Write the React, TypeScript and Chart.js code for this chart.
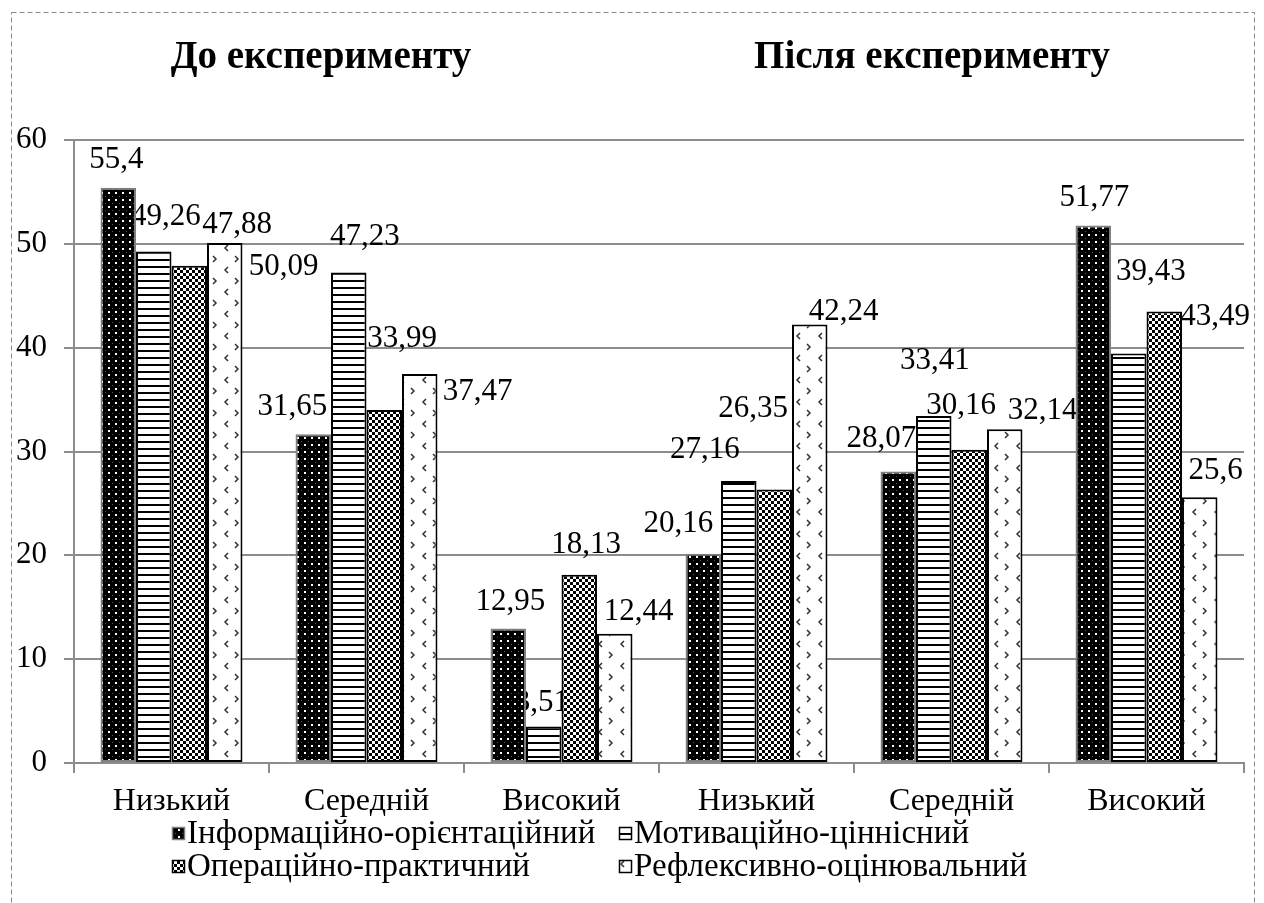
import React, { useEffect, useRef } from "react";
import { Chart, registerables } from "chart.js";

Chart.register(...registerables);

// ---------- data ----------
const CATEGORIES = ["Низький", "Середній", "Високий", "Низький", "Середній", "Високий"];
const SERIES_NAMES = [
  "Інформаційно-орієнтаційний",
  "Мотиваційно-ціннісний",
  "Операційно-практичний",
  "Рефлексивно-оцінювальний",
];
const INFO_VALUES = [55.4, 31.65, 12.95, 20.16, 28.07, 51.77];
const MOTIV_VALUES = [49.26, 47.23, 3.51, 27.16, 33.41, 39.43];
const OPER_VALUES = [47.88, 33.99, 18.13, 26.35, 30.16, 43.49];
const REFL_VALUES = [50.09, 37.47, 12.44, 42.24, 32.14, 25.6];
const Y_MIN = 0;
const Y_MAX = 60;
const Y_STEP = 10;
const GROUP_TITLES = ["До експерименту", "Після експерименту"];

// ---------- label placement (offsets of each value label from its bar top-centre) ----------
const LABEL_OFFSETS: number[][][] = [
  [[-2, -28], [-21, -28], [2, -27], [-25, -30], [-17, -33], [1, -28]],
  [[12, -35], [16, -36], [-2, -24], [-34, -31], [1, -55], [22, -82]],
  [[48, -41], [18, -71], [7, -30], [-21, -81], [-8, -44], [51, 5]],
  [[59, 24], [58, 18], [24, -22], [34, -13], [38, -18], [16, -26]],
];

const FONT_FAMILY = '"Liberation Serif", "Times New Roman", serif';
const GRID_COLOR = "#8c8c8c";
const BORDER_COLORS = ["#7f7f7f", "#000000", "#000000", "#000000"];
const TEXT_SIZE = 31;
const LEGEND_SIZE = 33;

function fmt(v: number): string {
  return String(v).replace(".", ",");
}

function tile(w: number, h: number, draw: (c: CanvasRenderingContext2D) => void) {
  const c = document.createElement("canvas");
  c.width = w;
  c.height = h;
  const ctx = c.getContext("2d")!;
  draw(ctx);
  return c;
}

function makePatterns(ctx: CanvasRenderingContext2D): CanvasPattern[] {
  const dots = tile(7, 7, (c) => {
    c.fillStyle = "#000";
    c.fillRect(0, 0, 7, 7);
    c.fillStyle = "#ffffff";
    c.fillRect(3, 3, 2, 2);
    c.fillStyle = "#555";
    c.fillRect(0, 0, 1, 1);
  });
  const lines = tile(4, 7, (c) => {
    c.fillStyle = "#fff";
    c.fillRect(0, 0, 4, 7);
    c.fillStyle = "#000";
    c.fillRect(0, 0, 4, 2);
  });
  const checker = tile(6, 6, (c) => {
    c.fillStyle = "#fff";
    c.fillRect(0, 0, 6, 6);
    c.fillStyle = "#000";
    c.fillRect(0, 0, 3, 3);
    c.fillRect(3, 3, 3, 3);
  });
  const chevrons = tile(22, 22, (c) => {
    c.fillStyle = "#fff";
    c.fillRect(0, 0, 22, 22);
    c.strokeStyle = "#333";
    c.lineWidth = 1.5;
    c.beginPath();
    c.moveTo(8, 3);
    c.lineTo(5, 6);
    c.lineTo(8, 9);
    c.moveTo(15, 14);
    c.lineTo(18, 17);
    c.lineTo(15, 20);
    c.stroke();
  });
  return [dots, lines, checker, chevrons].map((t) => ctx.createPattern(t, "repeat")!);
}

export default function App() {
  const ref = useRef<HTMLCanvasElement | null>(null);

  useEffect(() => {
    const canvas = ref.current!;
    const ctx0 = canvas.getContext("2d")!;
    const patterns = makePatterns(ctx0);
    const seriesValues = [INFO_VALUES, MOTIV_VALUES, OPER_VALUES, REFL_VALUES];

    const framePlugin = {
      id: "frame",
      beforeDraw(chart: any) {
        const c = chart.ctx;
        c.save();
        c.fillStyle = "#fff";
        c.fillRect(0, 0, chart.width, chart.height);
        c.strokeStyle = "#8a8a8a";
        c.lineWidth = 1;
        c.setLineDash([5, 3]);
        c.strokeRect(11.5, 12.5, 1243, 910);
        c.restore();
      },
    };

    const valueLabelPlugin = {
      id: "valueLabels",
      beforeDatasetsDraw(chart: any) {
        const c = chart.ctx;
        c.save();
        c.font = `${TEXT_SIZE}px ${FONT_FAMILY}`;
        c.fillStyle = "#000";
        c.textAlign = "center";
        c.textBaseline = "middle";
        chart.data.datasets.forEach((ds: any, i: number) => {
          const meta = chart.getDatasetMeta(i);
          meta.data.forEach((bar: any, j: number) => {
            const [dx, dy] = LABEL_OFFSETS[i][j];
            c.fillText(fmt(ds.data[j]), bar.x + dx, bar.y + dy);
          });
        });
        c.restore();
      },
    };

    const titlePlugin = {
      id: "groupTitles",
      afterDraw(chart: any) {
        const c = chart.ctx;
        c.save();
        c.font = `bold 39px ${FONT_FAMILY}`;
        c.fillStyle = "#000";
        c.textAlign = "center";
        c.textBaseline = "alphabetic";
        const xs = [321, 932];
        GROUP_TITLES.forEach((t, i) => c.fillText(t, xs[i], 68));
        c.restore();
      },
    };

    const legendPlugin = {
      id: "customLegend",
      afterDraw(chart: any) {
        const c = chart.ctx;
        c.save();
        c.font = `${LEGEND_SIZE}px ${FONT_FAMILY}`;
        c.fillStyle = "#000";
        c.textAlign = "left";
        c.textBaseline = "middle";
        const colX = [172, 619];
        const rowY = [834, 867];
        SERIES_NAMES.forEach((name, i) => {
          const x = colX[i % 2];
          const y = rowY[Math.floor(i / 2)];
          c.fillStyle = patterns[i];
          c.fillRect(x, y - 7, 13, 13);
          c.strokeStyle = BORDER_COLORS[i];
          c.lineWidth = 1.5;
          c.strokeRect(x + 0.5, y - 6.5, 12, 12);
          c.fillStyle = "#000";
          c.fillText(name, x + 15, y);
        });
        c.restore();
      },
    };

    const chart = new Chart(canvas, {
      type: "bar",
      data: {
        labels: CATEGORIES,
        datasets: seriesValues.map((vals, i) => ({
          label: SERIES_NAMES[i],
          data: vals,
          backgroundColor: patterns[i],
          borderColor: BORDER_COLORS[i],
          borderWidth: 2,
          borderSkipped: false,
          categoryPercentage: 0.728,
          barPercentage: 1,
        })),
      },
      options: {
        responsive: false,
        animation: false,
        events: [],
        layout: { padding: { left: 0, top: 140, right: 20, bottom: 0 } },
        plugins: {
          legend: { display: false },
          tooltip: { enabled: false },
          title: { display: false },
        },
        scales: {
          x: {
            afterFit(scale: any) {
              scale.height = 140;
            },
            grid: {
              display: true,
              offset: true,
              drawOnChartArea: false,
              drawTicks: true,
              tickLength: 10,
              color: GRID_COLOR,
              lineWidth: 2,
            },
            border: { display: true, color: GRID_COLOR, width: 2 },
            ticks: {
              color: "#000",
              padding: 9,
              maxRotation: 0,
              font: { family: FONT_FAMILY, size: 32 },
            },
          },
          y: {
            min: Y_MIN,
            max: Y_MAX,
            afterFit(scale: any) {
              scale.width = 74;
            },
            grid: {
              color: GRID_COLOR,
              lineWidth: 2,
              drawTicks: true,
              tickLength: 10,
            },
            border: { display: true, color: GRID_COLOR, width: 2 },
            ticks: {
              stepSize: Y_STEP,
              color: "#000",
              padding: 17,
              font: { family: FONT_FAMILY, size: 31 },
            },
          },
        },
      },
      plugins: [framePlugin, valueLabelPlugin, titlePlugin, legendPlugin],
    } as any);

    return () => chart.destroy();
  }, []);

  return (
    <div style={{ position: "absolute", left: 0, top: 0, width: 1264, height: 903, background: "#fff" }}>
      <canvas ref={ref} width={1264} height={903} style={{ display: "block" }} />
    </div>
  );
}
